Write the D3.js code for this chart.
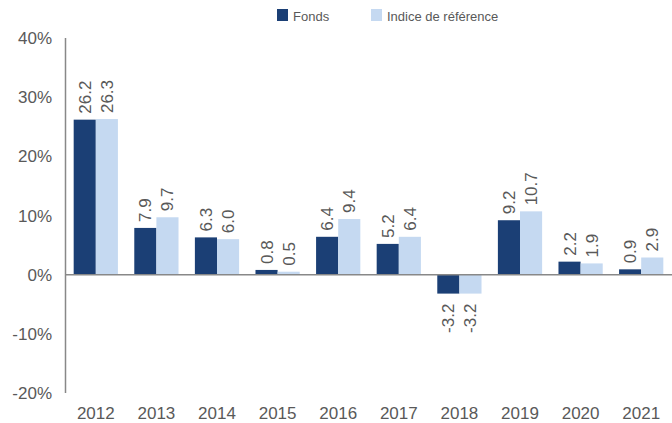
<!DOCTYPE html>
<html><head><meta charset="utf-8">
<script src="https://cdn.jsdelivr.net/npm/d3@7"></script>
<style>body{margin:0;background:#fff}svg{display:block;font-family:"Liberation Sans",Arial,sans-serif}</style>
</head><body><svg width="672" height="423"></svg>
<script>
const years = ["2012","2013","2014","2015","2016","2017","2018","2019","2020","2021"];
const fonds = [26.2,7.9,6.3,0.8,6.4,5.2,-3.2,9.2,2.2,0.9];
const indice = [26.3,9.7,6.0,0.5,9.4,6.4,-3.2,10.7,1.9,2.9];
const seriesNames = ["Fonds","Indice de référence"];
const yTicks = [-20,-10,0,10,20,30,40];

const svg = d3.select("svg");
const colors = ["#1B3F75","#C5D9F1"];
const y = d3.scaleLinear().domain([-20,40]).range([393,38]);
const x = d3.scaleBand().domain(years).range([65.5,671.5]).paddingInner(0.27).paddingOuter(0.135);
const xs = d3.scaleBand().domain([0,1]).range([0,x.bandwidth()]);
const grey = "#595959";

// y axis
svg.append("line").attr("x1",65.5).attr("x2",65.5).attr("y1",y(40)).attr("y2",y(-20)).attr("stroke","#888").attr("stroke-width",1.5);
svg.selectAll(".yl").data(yTicks).join("text").attr("x",52).attr("y",d=>y(d)).attr("dy","0.36em")
  .attr("text-anchor","end").attr("font-size",17).attr("fill",grey).text(d=>d+"%");

// bars
const data = years.map((yr,i)=>({yr, vals:[fonds[i],indice[i]]}));
const g = svg.selectAll(".grp").data(data).join("g").attr("transform",d=>`translate(${x(d.yr)},0)`);
g.selectAll("rect").data(d=>d.vals).join("rect")
  .attr("x",(d,i)=>xs(i)).attr("width",xs.bandwidth())
  .attr("y",d=>y(Math.max(0,d))).attr("height",d=>Math.abs(y(d)-y(0)))
  .attr("fill",(d,i)=>colors[i]);
g.selectAll("text").data(d=>d.vals).join("text")
  .attr("transform",(d,i)=>{const cx=xs(i)+xs.bandwidth()/2; const ty=d>=0?y(d)-6:y(d)+10; return `translate(${cx+6},${ty}) rotate(-90)`;})
  .attr("text-anchor",d=>d>=0?"start":"end").attr("font-size",17).attr("fill",grey)
  .text(d=>d.toFixed(1));

// zero line
svg.append("line").attr("x1",65.5).attr("x2",672).attr("y1",y(0)).attr("y2",y(0)).attr("stroke","#888").attr("stroke-width",1.5);

// x labels
svg.selectAll(".xl").data(years).join("text").attr("x",d=>x(d)+x.bandwidth()/2).attr("y",419)
  .attr("text-anchor","middle").attr("font-size",17).attr("fill",grey).text(d=>d);

// legend
const legX = [277,371];
const lg = svg.selectAll(".lg").data(seriesNames).join("g").attr("transform",(d,i)=>`translate(${legX[i]},9)`);
lg.append("rect").attr("width",11).attr("height",12).attr("fill",(d,i)=>colors[i]);
lg.append("text").attr("x",16).attr("y",12).attr("font-size",13).attr("fill",grey).text(d=>d);
</script></body></html>
